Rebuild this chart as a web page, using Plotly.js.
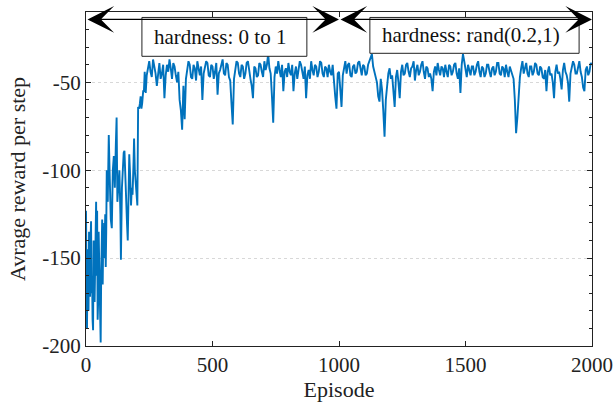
<!DOCTYPE html>
<html>
<head>
<meta charset="utf-8">
<script src="https://cdn.plot.ly/plotly-3.0.1.min.js"></script>
<style>html,body{margin:0;padding:0;background:#fff;}#chart{width:614px;height:402px;}</style>
</head>
<body>
<div id="chart"></div>
<script>
// Early phase (irregular reading positions)
var episodesEarly = [0,2,4,6,8,10,12,14,16,18,20,22,24,26,28,30,32,34,36,38,40,42,44,46,48,50,52,54,56,58,60,62,64,66,68,70,72,74,76,78,80,82,86,90,94,98,102,106,110,114,118,121,124,128,132,136,138,142,145,149,152,156,158,162,165,168,171,175,178,181,184,188,190,193,196,200,203,206,210,213,216,219,222,226,229,232,236];
var rewardEarly = [-123,-165,-190,-150,-145,-180,-135,-160,-172,-140,-129,-170,-160,-185,-191,-140,-150,-175,-158,-130,-118,-160,-123,-185,-175,-135,-149,-180,-190,-198,-160,-136,-128,-165,-140,-150,-130,-140,-125,-155,-135,-100,-118,-80,-105,-128,-133,-100,-92,-110,-85,-70,-118,-105,-100,-125,-151,-110,-100,-90,-89,-110,-123,-130,-140,-110,-91,-105,-120,-110,-114,-95,-82,-100,-108,-115,-120,-64,-65,-62,-58,-65,-62,-55,-55,-44,-56];
// Later phase
var episodesLate = [240,245,250,255,260,265,270,275,280,285,290,295,300,305,310,315,320,325,330,335,340,345,350,355,360,365,370,375,380,385,390,395,400,405,410,415,420,425,430,435,440,445,450,455,460,465,470,475,480,485,490,495,500,505,510,515,520,525,530,535,540,545,550,555,560,565,570,575,580,585,590,595,600,605,610,615,620,625,630,635,640,645,650,655,660,665,670,675,680,685,690,695,700,705,710,715,720,725,730,735,740,745,750,755,760,765,770,775,780,785,790,795,800,805,810,815,820,825,830,835,840,845,850,855,860,865,870,875,880,885,890,895,900,905,910,915,920,925,930,935,940,945,950,955,960,965,970,975,980,985,990,995,1000,1005,1010,1015,1020,1025,1030,1035,1040,1045,1050,1055,1060,1065,1070,1075,1080,1085,1090,1095,1100,1105,1110,1115,1120,1125,1130,1135,1140,1145,1150,1155,1160,1165,1170,1175,1180,1185,1190,1195,1200,1205,1210,1215,1220,1225,1230,1235,1240,1245,1250,1255,1260,1265,1270,1275,1280,1285,1290,1295,1300,1305,1310,1315,1320,1325,1330,1335,1340,1345,1350,1355,1360,1365,1370,1375,1380,1385,1390,1395,1400,1405,1410,1415,1420,1425,1430,1435,1440,1445,1450,1455,1460,1465,1470,1475,1480,1485,1490,1495,1500,1505,1510,1515,1520,1525,1530,1535,1540,1545,1550,1555,1560,1565,1570,1575,1580,1585,1590,1595,1600,1605,1610,1615,1620,1625,1630,1635,1640,1645,1650,1655,1660,1665,1670,1675,1680,1685,1690,1695,1700,1705,1710,1715,1720,1725,1730,1735,1740,1745,1750,1755,1760,1765,1770,1775,1780,1785,1790,1795,1800,1805,1810,1815,1820,1825,1830,1835,1840,1845,1850,1855,1860,1865,1870,1875,1880,1885,1890,1895,1900,1905,1910,1915,1920,1925,1930,1935,1940,1945,1950,1955,1960,1965,1970,1975,1980,1985,1990,1995,2000];
var rewardLate = [
-46,-41,-38,-44,-47,-37,-41,-45,-52,-43,-39,-48,-45,-40,-59,-46,-40,-44,-37,-42,
-48,-39,-41,-46,-50,-44,-60,-66,-77,-52,-71,-48,-43,-38,-40,-47,-48,-40,-42,-49,
-38,-43,-46,-41,-60,-45,-42,-38,-39,-46,-47,-40,-41,-48,-44,-39,-57,-45,-43,-40,
-37,-45,-46,-39,-40,-47,-49,-62,-74,-48,-44,-38,-39,-45,-47,-40,-41,-48,-45,-39,
-38,-44,-48,-52,-59,-41,-42,-47,-46,-39,-40,-44,-47,-38,-43,-40,-34,-42,-45,-58,
-73,-47,-41,-45,-38,-43,-47,-40,-55,-44,-42,-47,-39,-44,-46,-40,-55,-45,-41,-48,
-44,-38,-40,-45,-48,-41,-59,-46,-43,-48,-38,-43,-46,-40,-41,-47,-44,-38,-39,-45,
-47,-41,-42,-47,-40,-44,-46,-40,-52,-58,-65,-45,-44,-52,-64,-46,-41,-38,-45,-40,
-39,-46,-47,-41,-40,-45,-44,-39,-38,-43,-46,-40,-41,-46,-45,-40,-38,-36,-34,-41,
-44,-47,-50,-58,-61,-48,-54,-66,-81,-60,-52,-45,-42,-48,-46,-55,-64,-47,-43,-50,
-59,-44,-40,-46,-45,-40,-39,-44,-47,-42,-41,-38,-49,-43,-40,-46,-44,-40,-38,-44,
-48,-41,-42,-47,-45,-48,-55,-44,-41,-46,-39,-43,-46,-41,-42,-47,-40,-44,-47,-40,
-41,-46,-44,-40,-39,-45,-48,-42,-56,-40,-34,-38,-43,-47,-40,-44,-46,-41,-41,-46,
-44,-40,-38,-44,-47,-41,-42,-47,-45,-40,-40,-44,-47,-42,-41,-46,-44,-39,-39,-45,
-46,-41,-42,-47,-40,-44,-47,-41,-43,-46,-48,-60,-79,-70,-58,-47,-42,-38,-45,-41,
-39,-45,-47,-41,-41,-46,-44,-39,-40,-45,-46,-41,-42,-47,-48,-43,-55,-44,-41,-46,
-45,-50,-59,-44,-40,-45,-44,-48,-54,-43,-39,-44,-46,-50,-61,-45,-42,-38,-40,-45,
-45,-40,-38,-44,-47,-53,-55,-43,-41,-46,-44,-39,-40];

var xTicks = [0,500,1000,1500,2000];
var xTickText = ['0','500','1000','1500','2000'];
var yTicks = [-200,-150,-100,-50];
var yTickText = ['-200','-150','-100','-50'];

var xTitle = 'Episode';
var yTitle = 'Avrage reward per step';
var phaseLabels = ['hardness: 0 to 1','hardness: rand(0.2,1)'];
var phaseBounds = [[0,1000],[1000,2000]];

var episodes = episodesEarly.concat(episodesLate);
var reward = rewardEarly.concat(rewardLate);

var font = "'Liberation Serif', 'DejaVu Serif', serif";
var trace = {
  x: episodes, y: reward, type: 'scatter', mode: 'lines',
  line: {color: '#0072BD', width: 1.9}, hoverinfo: 'skip'
};

var arrowY = -14.2;
var annotations = [];
phaseBounds.forEach(function(b){
  annotations.push({
    x: b[1], y: arrowY, ax: b[0], ay: arrowY, xref: 'x', yref: 'y', axref: 'x', ayref: 'y',
    text: '', showarrow: true, arrowside: 'end+start',
    arrowhead: 3, startarrowhead: 3, arrowsize: 3.7, startarrowsize: 3.7,
    arrowwidth: 1.2, arrowcolor: '#000', standoff: 0, startstandoff: 0
  });
});
annotations.push({x: 259, y: -24.1, xref: 'x', yref: 'y', xanchor: 'left', yanchor: 'middle',
  text: phaseLabels[0], showarrow: false, font: {family: font, size: 21, color: '#111'}});
annotations.push({x: 1162, y: -23.3, xref: 'x', yref: 'y', xanchor: 'left', yanchor: 'middle',
  text: phaseLabels[1], showarrow: false, font: {family: font, size: 21, color: '#111'}});

var shapes = [
  {type: 'rect', xref: 'x', yref: 'y', x0: 221, x1: 873, y0: -35.2, y1: -13.1,
   fillcolor: '#fff', line: {color: '#222', width: 1}, layer: 'above'},
  {type: 'rect', xref: 'x', yref: 'y', x0: 1122, x1: 1949, y0: -33.5, y1: -13.1,
   fillcolor: '#fff', line: {color: '#222', width: 1}, layer: 'above'}
];

var layout = {
  width: 614, height: 402,
  margin: {l: 86, r: 22, t: 12, b: 56, pad: 0},
  paper_bgcolor: '#fff', plot_bgcolor: '#fff',
  showlegend: false,
  font: {family: font, size: 21, color: '#222'},
  xaxis: {
    range: [0, 2000], tickvals: xTicks, ticktext: xTickText,
    ticks: 'inside', ticklen: 5, tickcolor: '#222', mirror: 'ticks',
    showline: true, linecolor: '#222', linewidth: 1,
    showgrid: false, zeroline: false,
    tickfont: {family: font, size: 21, color: '#222'},
    title: {text: xTitle, font: {family: font, size: 22, color: '#222'}, standoff: 9}
  },
  yaxis: {
    range: [-200, -10], tickvals: yTicks, ticktext: yTickText,
    ticks: 'inside', ticklen: 5, tickcolor: '#222', mirror: 'ticks',
    showline: true, linecolor: '#222', linewidth: 1,
    showgrid: true, gridcolor: '#d8d8d8', griddash: 'dot', gridwidth: 1,
    zeroline: false,
    minor: {dtick: 10, ticks: 'inside', ticklen: 3, tickcolor: '#222', showgrid: false},
    tickfont: {family: font, size: 21, color: '#222'},
    title: {text: yTitle, font: {family: font, size: 22, color: '#222'}, standoff: 10}
  },
  shapes: shapes,
  annotations: annotations
};

Plotly.newPlot('chart', [trace], layout, {staticPlot: true, displayModeBar: false});
</script>
</body>
</html>
